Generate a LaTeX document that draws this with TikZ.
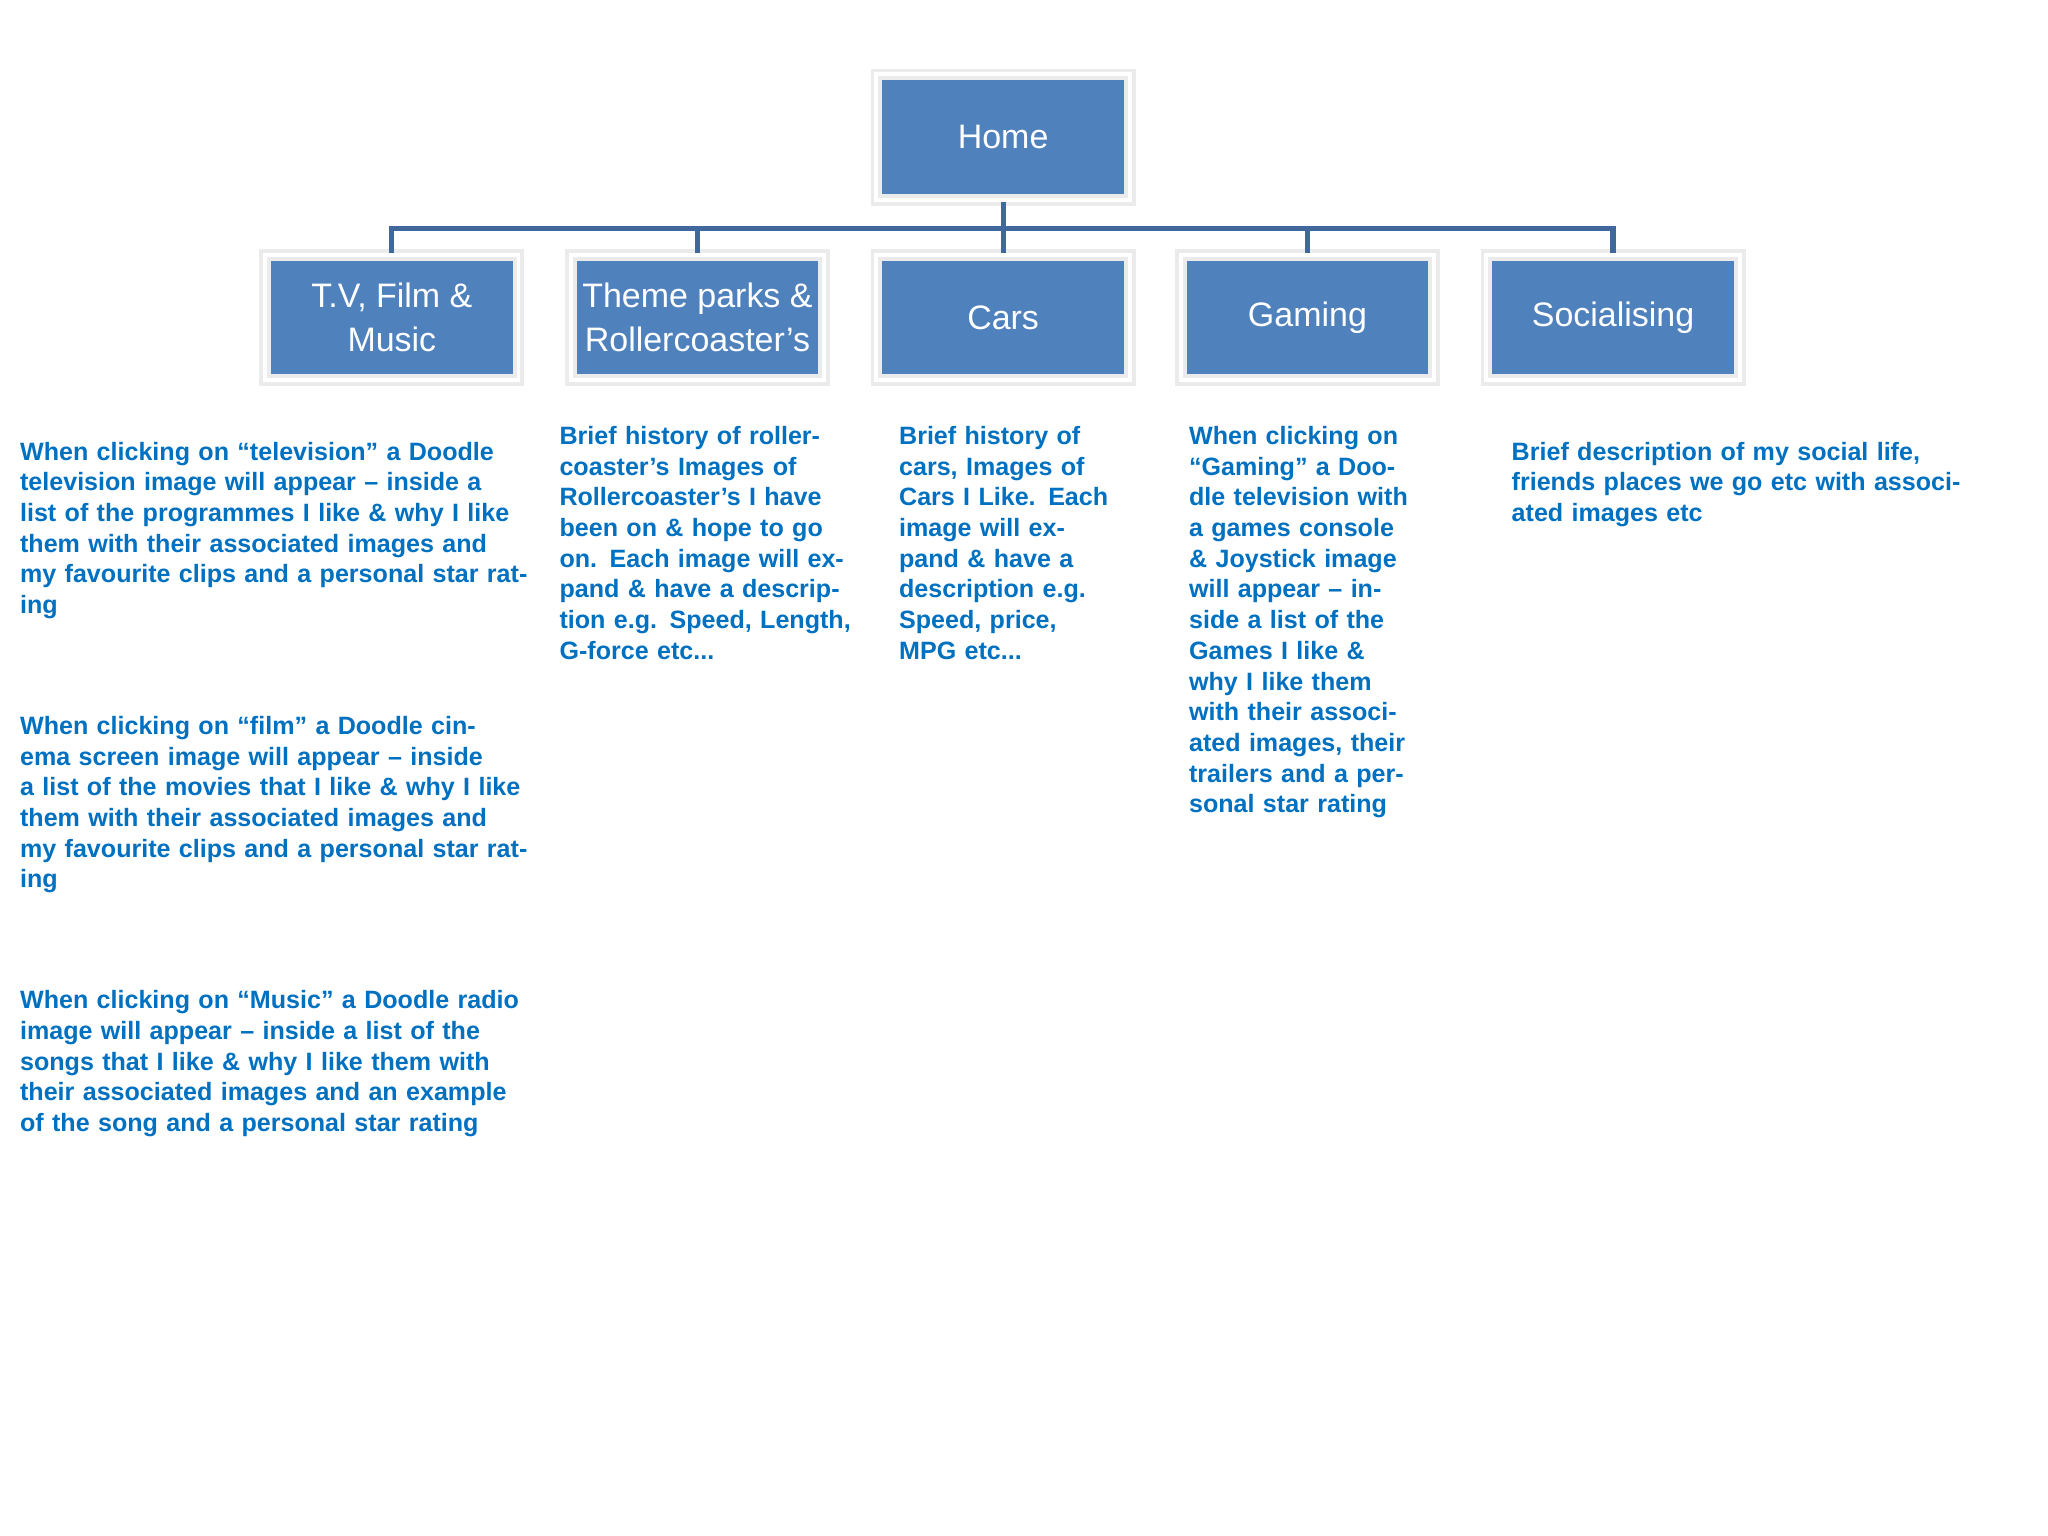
\documentclass[tikz,border=0pt]{standalone}
\usepackage{fontspec}
\setmainfont{Liberation Sans}
\usetikzlibrary{positioning}
\definecolor{boxblue}{HTML}{4F81BD}
\definecolor{linkblue}{HTML}{41689C}
\definecolor{noteblue}{HTML}{0070C0}
\begin{document}
\begin{tikzpicture}[
            x = 0.5pt, y = -0.5pt, % pixel grid of the page
            page/.style = {draw = black!8, line width = 1.5pt,
                fill = boxblue, text = white, font = \fontsize{13}{16.5}\selectfont,
                minimum width = 97pt, minimum height = 48pt, inner sep = 1pt,
                align = center, double = white, double distance = 1.5pt},
            note/.style = {anchor = north west, text = noteblue, inner sep = 0pt,
                font = \bfseries\fontsize{9.6}{11.75}\selectfont, align = left},
            link/.style = {draw = linkblue, line width = 2pt}
        ]

        \useasboundingbox (0,0) rectangle (1568,1176);

        \node[page] (home) at (768,105) {Home};
        \node[page] (tv) at (300,243) {T.V, Film \&\\Music};
        \node[page] (theme) at (534,243) {Theme parks \&\\Rollercoaster's};
        \node[page] (cars) at (768,243) {Cars};
        \node[page] (gaming) at (1001,243) {Gaming};
        \node[page] (social) at (1235,243) {Socialising};

        \coordinate (bus) at (768,175);
        \draw[link] (home.south) -- (bus);
        \foreach \p in {tv, theme, cars, gaming, social}
            \draw[link] (bus) -| (\p.north);

        \node[note, text width = 195pt] (tvnote) at (15,338) {When clicking on “television” a Doodle television image will appear – inside a list of the programmes I like \& why I like them with their associated images and my favourite clips and a personal star rating};
        \node[note, text width = 195pt] (filmnote) at (15,548) {When clicking on “film” a Doodle cinema screen image will appear – inside a list of the movies that I like \& why I like them with their associated images and my favourite clips and a personal star rating};
        \node[note, text width = 195pt] (musicnote) at (15,758) {When clicking on “Music” a Doodle radio image will appear – inside a list of the songs that I like \& why I like them with their associated images and an example of the song and a personal star rating};
        \node[note, text width = 118pt] (themenote) at (428,326) {Brief history of rollercoaster's Images of Rollercoaster's I have been on \& hope to go on. Each image will expand \& have a description e.g. Speed, Length, G-force etc...};
        \node[note, text width = 82pt] (carsnote) at (688,326) {Brief history of cars, Images of Cars I Like. Each image will expand \& have a description e.g. Speed, price, MPG etc...};
        \node[note, text width = 86pt] (gamingnote) at (910,326) {When clicking on “Gaming” a Doodle television with a games console \& Joystick image will appear – inside a list of the Games I like \& why I like them with their associated images, their trailers and a personal star rating};
        \node[note, text width = 175pt] (socialnote) at (1157,338) {Brief description of my social life, friends places we go etc with associated images etc};

  \end{tikzpicture}
\end{document}
